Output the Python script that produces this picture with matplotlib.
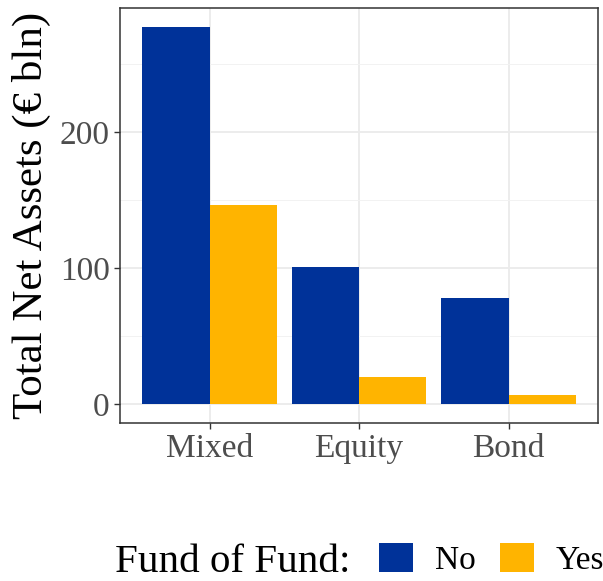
import numpy as np
import matplotlib
matplotlib.use("Agg")
import matplotlib.pyplot as plt
from matplotlib.patches import Patch

categories = ["Mixed", "Equity", "Bond"]
no_vals = [277.5, 100.8, 78.2]
yes_vals = [146.7, 20.3, 6.6]
groups = ["No", "Yes"]
colors = ["#003299", "#FFB400"]

plt.rcParams["font.family"] = ["Liberation Serif", "DejaVu Serif"]

fig = plt.figure(figsize=(6.03, 5.81), dpi=100)
ax = fig.add_axes([0.199, 0.272, 0.793, 0.714])

x = np.arange(len(categories))
w = 0.45
ax.bar(x - w / 2, no_vals, width=w, color=colors[0], zorder=3)
ax.bar(x + w / 2, yes_vals, width=w, color=colors[1], zorder=3)

ymax = max(no_vals)
ax.set_ylim(-0.05 * ymax, ymax * 1.05)
ax.set_xlim(-0.6, len(categories) - 0.4)
ax.set_xticks(x)
ax.set_xticklabels(categories)
ax.set_yticks([0, 100, 200])
ax.set_yticks([50, 150, 250], minor=True)
ax.tick_params(axis="y", which="minor", length=0)
ax.grid(True, which="major", color="#EBEBEB", linewidth=1.3, zorder=0)
ax.grid(True, which="minor", axis="y", color="#F2F2F2", linewidth=0.7, zorder=0)
ax.set_axisbelow(True)
ax.tick_params(axis="both", which="major", labelsize=24, labelcolor="#4D4D4D",
               color="#333333", length=4, width=1)
for s in ax.spines.values():
    s.set_color("#333333")
    s.set_linewidth(1.1)
ax.set_ylabel("Total Net Assets (€ bln)", fontsize=31, labelpad=6)

fig.text(0.19, 0.016, "Fund of Fund:", fontsize=29.5, ha="left", va="baseline")
handles = [Patch(facecolor=c, edgecolor="none") for c in colors]
fig.legend(handles, groups, loc="lower left", bbox_to_anchor=(0.6235, 0.003),
           ncol=2, frameon=False, fontsize=24, handlelength=1.0,
           handleheight=1.0, handletextpad=0.66, columnspacing=0.75,
           borderaxespad=0, borderpad=0.1)

fig.savefig("out.png", dpi=100)
